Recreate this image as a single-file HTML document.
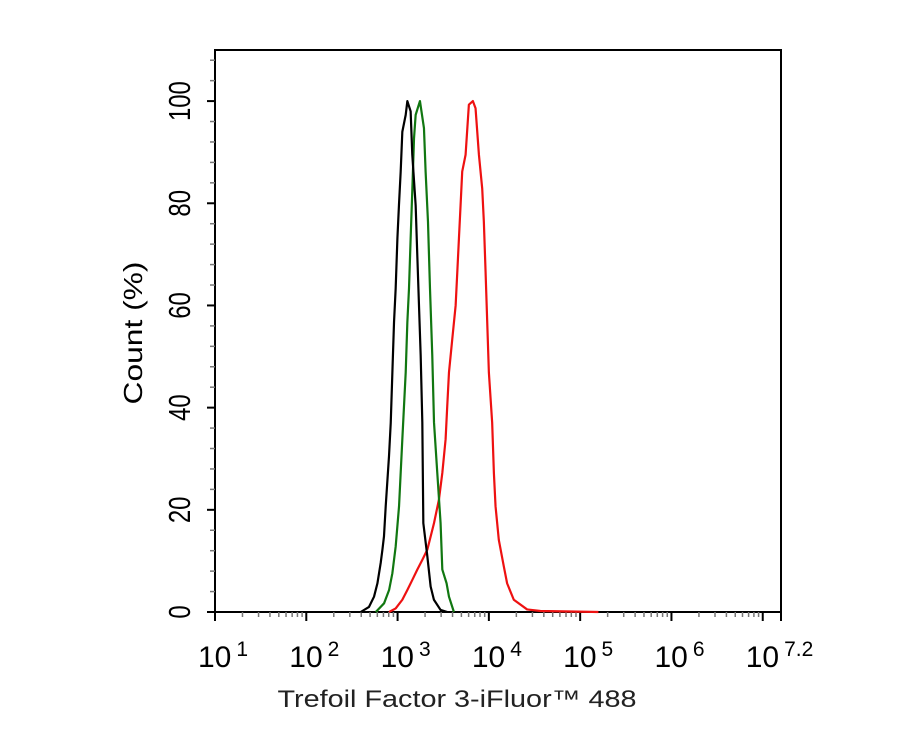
<!DOCTYPE html>
<html><head><meta charset="utf-8"><style>
body{margin:0;background:#fff;}
svg{display:block;font-family:"Liberation Sans",Arial,sans-serif;}
</style></head><body>
<svg id="chart" width="913" height="730" viewBox="0 0 913 730">
<rect width="913" height="730" fill="#fff"/>
<g id="axes"></g>
<g id="series"></g>
<text transform="translate(142,333) rotate(-90)" text-anchor="middle" font-size="26" textLength="143" lengthAdjust="spacingAndGlyphs" fill="#000">Count  (%)</text>
<text x="457" y="707" text-anchor="middle" font-size="24" textLength="359" lengthAdjust="spacingAndGlyphs" fill="#222">Trefoil Factor 3-iFluor™ 488</text>
</svg>
<script>
const xTickExps=[1,2,3,4,5,6];
const xEndLabel="7.2";
const yTicks=[0,20,40,60,80,100];
const blackX=[2.596,2.687,2.742,2.779,2.815,2.834,2.851,2.870,2.906,2.925,2.943,2.961,2.979,2.998,3.015,3.034,3.052,3.089,3.107,3.143,3.161,3.198,3.216,3.253,3.271,3.282,3.326,3.362,3.398,3.471,3.545];
const blackY=[0,1.0,3.0,5.6,9.6,12.2,14.8,20.7,30.5,37.0,46.9,56.7,63.3,73.1,79.6,86.2,94.0,97.3,100,98,89.5,79.6,69.8,50.2,37.1,17.4,10.9,5.0,2.4,0.4,0];
const greenX=[2.761,2.852,2.907,2.943,2.979,3.016,3.052,3.089,3.107,3.125,3.143,3.162,3.180,3.198,3.245,3.289,3.307,3.333,3.355,3.380,3.399,3.435,3.471,3.490,3.537,3.563,3.617];
const greenY=[0,1.7,4.3,7.6,12.8,20.7,33.8,46.9,56.7,63.3,73.1,82.9,92.7,97.3,100,94.7,86.2,76.4,63.3,50.2,37.1,27.2,17.4,8.3,5.6,3.0,0];
const redX=[2.907,2.979,3.052,3.107,3.162,3.216,3.271,3.326,3.399,3.453,3.490,3.526,3.544,3.563,3.599,3.636,3.654,3.672,3.690,3.708,3.745,3.781,3.825,3.854,3.891,3.927,3.945,3.964,3.982,4.000,4.036,4.055,4.073,4.109,4.164,4.200,4.273,4.419,4.565,4.9,5.2];
const redY=[0,0.7,2.4,4.3,6.3,8.3,10.2,12.2,17.4,22.0,27.2,33.8,40.3,46.9,53.4,60.0,66.5,73.1,79.6,86.2,89.5,99.3,100,98.6,89.5,82.9,76.4,66.5,56.7,46.9,37.1,27.2,20.7,14.1,8.9,5.6,2.4,0.5,0.2,0.1,0];

const L=215,R=781,T=50,B=612,XMIN=1,XMAX=7.2,YMAX=110;
const sx=v=>L+(v-XMIN)/(XMAX-XMIN)*(R-L);
const sy=v=>B-v/YMAX*(B-T);
const NS="http://www.w3.org/2000/svg";
const ax=document.getElementById('axes'), se=document.getElementById('series');
function mk(tag,attrs,parent){const e=document.createElementNS(NS,tag);for(const k in attrs)e.setAttribute(k,attrs[k]);parent.appendChild(e);return e;}
const frame=mk('rect',{x:L,y:T,width:R-L,height:B-T,fill:'none',stroke:'#000','stroke-width':2},ax);


for(let v=0;v<=108;v+=4){const t=mk('line',{x1:L-(v%20===0?8:5),x2:L,y1:sy(v),y2:sy(v),stroke:v%20===0?'#000':'#777','stroke-width':v%20===0?2:1.5},ax);

}
yTicks.forEach(v=>{const s=String(v);const t=mk('text',{transform:`translate(190,${sy(v)}) rotate(-90)`,'text-anchor':'middle','font-size':31,textLength:s.length*13.3,lengthAdjust:'spacingAndGlyphs',fill:'#000'},ax);t.textContent=s;

});
for(let d=1;d<=7;d++){
 const t=mk('line',{x1:sx(d),x2:sx(d),y1:B,y2:B+9,stroke:'#000','stroke-width':2},ax);
 
 
 for(let m=2;m<=9;m++){const v=d+Math.log10(m);if(v>XMAX)break;const t2=mk('line',{x1:sx(v),x2:sx(v),y1:B,y2:B+5,stroke:'#777','stroke-width':1.5},ax);
 
 }
}
mk('line',{x1:R,x2:R,y1:B,y2:B+9,stroke:'#000','stroke-width':2},ax);
function xlab(x,exp){const t=mk('text',{x:x-17,y:667,'font-size':30,fill:'#000'},ax);
 
 
 const a=mk('tspan',{},t);a.textContent='10';const b=mk('tspan',{dy:-11,'font-size':21,dx:5},t);b.textContent=exp;}
xTickExps.forEach(e=>xlab(sx(e),e));
xlab(sx(7),xEndLabel);
function line(xs,ys,color,name){const p=mk('polyline',{points:xs.map((x,i)=>sx(x)+','+sy(ys[i])).join(' '),fill:'none',stroke:color,'stroke-width':2.2,'stroke-linejoin':'round'},se);
 
 }
line(redX,redY,'#ee1111','series-red');
line(greenX,greenY,'#117711','series-green');
line(blackX,blackY,'#000','series-black');
</script>
</body></html>
